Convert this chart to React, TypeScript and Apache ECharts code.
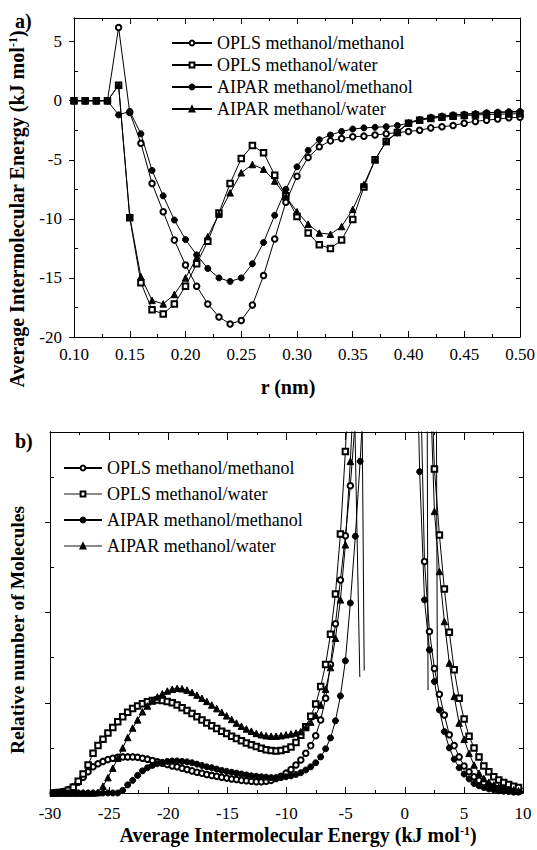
import React, { useEffect, useRef } from "react";
import * as echarts from "echarts";

const FONT = "Liberation Serif, Times New Roman, serif";

// ---------- Panel a) ----------
const rValues = [
  0.10, 0.11, 0.12, 0.13, 0.14, 0.15, 0.16, 0.17, 0.18, 0.19, 0.20, 0.21, 0.22, 0.23,
  0.24, 0.25, 0.26, 0.27, 0.28, 0.29, 0.30, 0.31, 0.32, 0.33, 0.34, 0.35, 0.36, 0.37,
  0.38, 0.39, 0.40, 0.41, 0.42, 0.43, 0.44, 0.45, 0.46, 0.47, 0.48, 0.49, 0.50,
];
const oplsMethMethA = [
  0, 0, 0, 0, 6.2, -1.0, -3.6, -7.0, -9.4, -11.8, -13.9, -15.7, -17.2, -18.3,
  -18.9, -18.6, -17.3, -14.8, -11.7, -8.6, -6.4, -4.8, -3.9, -3.4, -3.2, -3.05, -3.0, -2.9,
  -2.8, -2.7, -2.6, -2.5, -2.3, -2.2, -2.1, -1.9, -1.75, -1.65, -1.55, -1.45, -1.4,
];
const oplsMethWatA = [
  0, 0, 0, 0, 1.3, -9.9, -15.4, -17.7, -18.05, -17.2, -15.7, -13.8, -11.9, -9.5,
  -7.0, -4.9, -3.8, -4.4, -6.3, -8.05, -9.8, -11.2, -12.2, -12.5, -11.8, -10.05, -7.3, -5.0,
  -3.45, -2.7, -1.9, -1.65, -1.5, -1.4, -1.32, -1.26, -1.21, -1.17, -1.14, -1.12, -1.1,
];
const aiparMethMethA = [
  0, 0, 0, 0, -1.2, -0.9, -2.8, -5.9, -8.05, -10.1, -11.75, -13.05, -14.2, -15.0,
  -15.3, -15.0, -13.8, -12.0, -9.7, -7.5, -5.6, -4.2, -3.3, -2.9, -2.6, -2.4, -2.3, -2.25,
  -2.2, -2.1, -1.9, -1.6, -1.4, -1.3, -1.2, -1.15, -1.1, -1.02, -0.97, -0.93, -0.9,
];
const aiparMethWatA = [
  0, 0, 0, 0, 1.3, -9.8, -14.9, -16.9, -17.2, -16.4, -15.0, -13.3, -11.5, -9.6,
  -7.8, -6.1, -5.4, -5.8, -6.8, -8.1, -9.4, -10.45, -11.2, -11.3, -10.65, -9.2, -7.1, -5.0,
  -3.45, -2.65, -1.85, -1.6, -1.45, -1.32, -1.22, -1.14, -1.08, -1.03, -0.99, -0.97, -0.95,
];
const xTicksA = [0.1, 0.5, 0.05];
const yLabelsA = [-20, -15, -10, -5, 0, 5];
const yMinorA = [-17.5, -12.5, -7.5, -2.5, 2.5];
const yRightA = [-17.5, -15, -12.5, -10, -7.5, -5, -2.5, 0, 2.5, 5];

// ---------- Panel b) ----------
const energyLeft = [
  -29.71, -29.29, -28.87, -28.45, -28.03, -27.61, -27.20, -26.78, -26.36, -25.94,
  -25.52, -25.10, -24.69, -24.27, -23.85, -23.43, -23.01, -22.59, -22.18, -21.76,
  -21.34, -20.92, -20.50, -20.08, -19.66, -19.25, -18.83, -18.41, -17.99, -17.57,
  -17.15, -16.74, -16.32, -15.90, -15.48, -15.06, -14.64, -14.23, -13.81, -13.39,
  -12.97, -12.55, -12.13, -11.72, -11.30, -10.88, -10.46, -10.04, -9.62, -9.20,
  -8.79, -8.37, -7.95, -7.53, -7.11, -6.69, -6.28, -5.86, -5.44, -5.02,
  -4.60, -4.18, -3.77, -3.35,
];
const energyRight = [
  0.84, 1.26, 1.67, 2.09, 2.51, 2.93, 3.35, 3.77, 4.18, 4.60, 5.02, 5.44, 5.86, 6.28,
  6.69, 7.11, 7.53, 7.95, 8.37, 8.79, 9.21, 9.62, 10.04,
];
const oplsMethMethBL = [
  0, 0.01, 0.03, 0.07, 0.14, 0.24, 0.35, 0.47, 0.58, 0.65,
  0.70, 0.74, 0.77, 0.79, 0.80, 0.80, 0.80, 0.79, 0.77, 0.75,
  0.72, 0.69, 0.66, 0.63, 0.60, 0.58, 0.55, 0.52, 0.49, 0.46,
  0.44, 0.41, 0.39, 0.37, 0.35, 0.33, 0.31, 0.30, 0.28, 0.27,
  0.26, 0.25, 0.25, 0.26, 0.28, 0.32, 0.37, 0.44, 0.52, 0.62,
  0.73, 0.88, 1.05, 1.27, 1.62, 2.10, 2.85, 3.75, 4.72, 5.70,
  6.81, 8.3, null, null,
];
const oplsMethWatBL = [
  0, 0.01, 0.02, 0.06, 0.13, 0.26, 0.42, 0.62, 0.88, 1.05,
  1.19, 1.33, 1.45, 1.58, 1.69, 1.79, 1.87, 1.93, 1.98, 2.02,
  2.05, 2.06, 2.05, 2.03, 2.00, 1.95, 1.89, 1.83, 1.76, 1.69,
  1.62, 1.55, 1.49, 1.43, 1.37, 1.32, 1.26, 1.21, 1.16, 1.11,
  1.07, 1.03, 0.99, 0.96, 0.94, 0.93, 0.94, 0.97, 1.02, 1.12,
  1.28, 1.47, 1.70, 1.97, 2.36, 2.85, 3.52, 4.41, 5.74, 7.57,
  9.8, null, null, null,
];
const aiparMethMethBL = [
  0, 0, 0, 0, 0, 0, 0, 0, 0, 0,
  0, 0, 0, 0, 0.06, 0.18, 0.28, 0.39, 0.49, 0.56,
  0.61, 0.65, 0.68, 0.70, 0.71, 0.71, 0.70, 0.69, 0.67, 0.64,
  0.61, 0.58, 0.56, 0.53, 0.50, 0.48, 0.46, 0.44, 0.42, 0.40,
  0.38, 0.37, 0.36, 0.35, 0.34, 0.34, 0.34, 0.36, 0.38, 0.41,
  0.45, 0.51, 0.58, 0.67, 0.80, 0.98, 1.22, 1.60, 2.15, 2.93,
  4.21, 5.69, 7.35, 9.4,
];
const aiparMethWatBL = [
  0, 0, 0, 0, 0, 0, 0, 0, 0, 0.01,
  0.15, 0.34, 0.55, 0.77, 1.00, 1.23, 1.44, 1.62, 1.80, 1.93,
  2.04, 2.13, 2.20, 2.26, 2.30, 2.32, 2.31, 2.28, 2.23, 2.17,
  2.10, 2.03, 1.95, 1.87, 1.79, 1.71, 1.63, 1.55, 1.48, 1.42,
  1.37, 1.32, 1.29, 1.27, 1.26, 1.26, 1.27, 1.29, 1.31, 1.33,
  1.36, 1.45, 1.57, 1.72, 1.95, 2.30, 2.78, 3.43, 4.28, 5.50,
  7.35, 9.6, null, null,
];
const oplsMethMethBR = [
  null, 10, 5.13, 3.58, 2.76, 2.19, 1.73, 1.29, 1.05, 0.80, 0.60, 0.47, 0.36, 0.28,
  0.22, 0.17, 0.13, 0.10, 0.08, 0.06, 0.05, 0.04, 0.03,
];
const oplsMethWatBR = [
  null, null, null, 10.5, 7.18, 5.72, 4.52, 3.56, 2.73, 2.10, 1.64, 1.26, 1.00, 0.80,
  0.60, 0.47, 0.36, 0.29, 0.23, 0.19, 0.15, 0.12, 0.10,
];
const aiparMethMethBR = [
  12, 7.12, 4.28, 3.17, 2.47, 1.84, 1.36, 1.00, 0.75, 0.56, 0.42, 0.31, 0.21, 0.16,
  0.12, 0.09, 0.07, 0.05, 0.04, 0.03, 0.02, 0.02, 0.01,
];
const aiparMethWatBR = [
  null, null, null, 9.5, 6.24, 4.91, 3.80, 2.88, 2.14, 1.55, 1.19, 0.88, 0.62, 0.44,
  0.32, 0.24, 0.18, 0.13, 0.10, 0.08, 0.07, 0.05, 0.04,
];
// stray straight segments below the clipped peaks
const tailLinesB = [
  [[-4.22, 8.2], [-3.80, 2.57]],
  [[-3.60, 8.2], [-3.43, 2.71]],
  [[1.90, 8.2], [1.97, 2.28]],
  [[2.68, 8.2], [2.76, 2.47]],
];
const xLabelsB = [-30, 10, 5];
const yMajorB = [2, 4, 6];
const yMinorB = [1, 3, 5, 7];
const yRightB = [1, 2, 3, 4, 5, 6, 7];

const NAMES = [
  "OPLS methanol/methanol",
  "OPLS methanol/water",
  "AIPAR methanol/methanol",
  "AIPAR methanol/water",
];

const BLACK = "#000";

function lineSeries(
  name: string,
  data: any[],
  symbol: string,
  size: number,
  xi: number,
  yi: number
) {
  return {
    name,
    type: "line",
    data,
    symbol,
    symbolSize: size,
    xAxisIndex: xi,
    yAxisIndex: yi,
    clip: true,
    connectNulls: false,
    lineStyle: { color: BLACK, width: 1 },
    itemStyle: { color: BLACK, borderColor: BLACK, borderWidth: 1 },
    emphasis: { disabled: true },
    animation: false,
  };
}

function pairs(xs: number[], ys: (number | null)[]) {
  return xs.map((x, i) => [x, ys[i]]);
}
function branches(l: (number | null)[], r: (number | null)[]) {
  return [...pairs(energyLeft, l), [0, null], ...pairs(energyRight, r)];
}

const tickLine = { color: BLACK, width: 1 };

function xAxisDef(grid: number, min: number, max: number, interval: number, pos: string, labels: boolean, margin: number, fmt?: (v: number) => string, majorLen = 6) {
  return {
    type: "value",
    gridIndex: grid,
    min,
    max,
    interval,
    position: pos,
    axisLine: { show: true, onZero: false, lineStyle: tickLine },
    axisTick: { show: true, inside: true, length: majorLen, lineStyle: tickLine },
    minorTick: { show: true, splitNumber: 2, length: 3, lineStyle: tickLine },
    splitLine: { show: false },
    minorSplitLine: { show: false },
    axisLabel: {
      show: labels,
      color: BLACK,
      fontFamily: FONT,
      fontSize: 17,
      margin,
      formatter: fmt,
    },
  };
}

function yAxisDef(grid: number, min: number, max: number, pos: string, ticks: number[], inside: boolean, len: number, labels?: number[]) {
  return {
    type: "value",
    gridIndex: grid,
    min,
    max,
    position: pos,
    axisLine: { show: true, onZero: false, lineStyle: tickLine },
    axisTick: { show: true, inside, length: len, lineStyle: tickLine, customValues: ticks },
    splitLine: { show: false },
    axisLabel: labels
      ? { show: true, color: BLACK, fontFamily: FONT, fontSize: 17, margin: 12, customValues: labels }
      : { show: false },
  };
}

const titleFont = { fontFamily: FONT, fontWeight: "bold", fill: BLACK };
function axisTitle(x: number, y: number, rotation: number) {
  return {
    type: "text",
    x,
    y,
    rotation,
    style: {
      text: "{t|Average Intermolecular Energy (kJ mol}{s|-1}{t|)}",
      align: "center",
      verticalAlign: "middle",
      rich: {
        t: { ...titleFont, fontSize: 20, lineHeight: 20 },
        s: { ...titleFont, fontSize: 12, lineHeight: 12, verticalAlign: "top" },
      },
    },
  };
}

function buildOption() {
  const legendText = { fontFamily: FONT, fontSize: 18, color: BLACK, lineHeight: 18 };
  return {
    animation: false,
    backgroundColor: "#fff",
    textStyle: { fontFamily: FONT },
    grid: [
      { left: 74, right: 17, top: 18, height: 319, outerBoundsMode: "none" },
      { left: 50, right: 14, top: 432, height: 361, outerBoundsMode: "none" },
    ],
    xAxis: [
      xAxisDef(0, xTicksA[0], xTicksA[1], xTicksA[2], "bottom", true, 9, (v: number) => v.toFixed(2)),
      xAxisDef(0, xTicksA[0], xTicksA[1], xTicksA[2], "top", false, 8),
      xAxisDef(1, xLabelsB[0], xLabelsB[1], xLabelsB[2], "bottom", true, 12, (v: number) => String(v)),
      xAxisDef(1, xLabelsB[0], xLabelsB[1], xLabelsB[2], "top", false, 8, undefined, 8),
    ],
    yAxis: [
      yAxisDef(0, -20, 7, "left", yLabelsA, false, 5, yLabelsA),
      yAxisDef(0, -20, 7, "left", yMinorA, true, 4),
      yAxisDef(0, -20, 7, "right", yRightA, true, 4),
      yAxisDef(1, 0, 8, "left", yMajorB, false, 5),
      yAxisDef(1, 0, 8, "left", yMinorB, true, 4),
      yAxisDef(1, 0, 8, "right", yRightB, true, 4),
    ],
    legend: [
      {
        left: 166,
        top: 29,
        orient: "vertical",
        itemWidth: 40,
        itemHeight: 6,
        itemGap: 4,
        selectedMode: false,
        textStyle: { ...legendText },
        data: NAMES.map((n) => ({ name: n })),
      },
      {
        left: 58,
        top: 454,
        orient: "vertical",
        itemWidth: 38,
        itemHeight: 6,
        itemGap: 8,
        selectedMode: false,
        textStyle: { ...legendText },
        data: NAMES.map((n, i) => (i % 2 === 1 ? { name: n, lineStyle: { color: "#8a8a8a" } } : { name: n })),
      },
    ],
    graphic: [
      { type: "text", left: 15, top: 11, style: { text: "a)", ...titleFont, fontSize: 20 } },
      { type: "text", left: 15, top: 431, style: { text: "b)", ...titleFont, fontSize: 20 } },
      axisTitle(17, 209, Math.PI / 2),
      {
        type: "text",
        x: 288,
        y: 387,
        style: { text: "r (nm)", ...titleFont, fontSize: 20, align: "center", verticalAlign: "middle" },
      },
      {
        type: "text",
        x: 17,
        y: 630,
        rotation: Math.PI / 2,
        style: {
          text: "Relative number of Molecules",
          ...titleFont,
          fontSize: 19.5,
          align: "center",
          verticalAlign: "middle",
        },
      },
      axisTitle(298, 835, 0),
    ],
    series: [
      lineSeries(NAMES[0], pairs(rValues, oplsMethMethA), "emptyCircle", 5.5, 0, 0),
      lineSeries(NAMES[1], pairs(rValues, oplsMethWatA), "emptyRect", 5.5, 0, 0),
      lineSeries(NAMES[2], pairs(rValues, aiparMethMethA), "circle", 6, 0, 0),
      lineSeries(NAMES[3], pairs(rValues, aiparMethWatA), "triangle", 6.5, 0, 0),
      lineSeries(NAMES[0], branches(oplsMethMethBL, oplsMethMethBR), "emptyCircle", 5.5, 2, 3),
      lineSeries(NAMES[1], branches(oplsMethWatBL, oplsMethWatBR), "emptyRect", 5.5, 2, 3),
      lineSeries(NAMES[2], branches(aiparMethMethBL, aiparMethMethBR), "circle", 6, 2, 3),
      lineSeries(NAMES[3], branches(aiparMethWatBL, aiparMethWatBR), "triangle", 6.5, 2, 3),
      ...tailLinesB.map((seg) => ({
        type: "line",
        data: seg,
        symbol: "none",
        xAxisIndex: 2,
        yAxisIndex: 3,
        clip: true,
        lineStyle: { color: BLACK, width: 1 },
        emphasis: { disabled: true },
        animation: false,
      })),
    ],
  };
}

export default function App() {
  const ref = useRef<HTMLDivElement>(null);
  useEffect(() => {
    if (!ref.current) return;
    const chart = echarts.init(ref.current, null, { renderer: "svg" });
    chart.setOption(buildOption() as any);
    return () => chart.dispose();
  }, []);
  return (
    <div
      ref={ref}
      style={{ position: "absolute", left: 0, top: 0, width: 537, height: 850, background: "#fff" }}
    />
  );
}
